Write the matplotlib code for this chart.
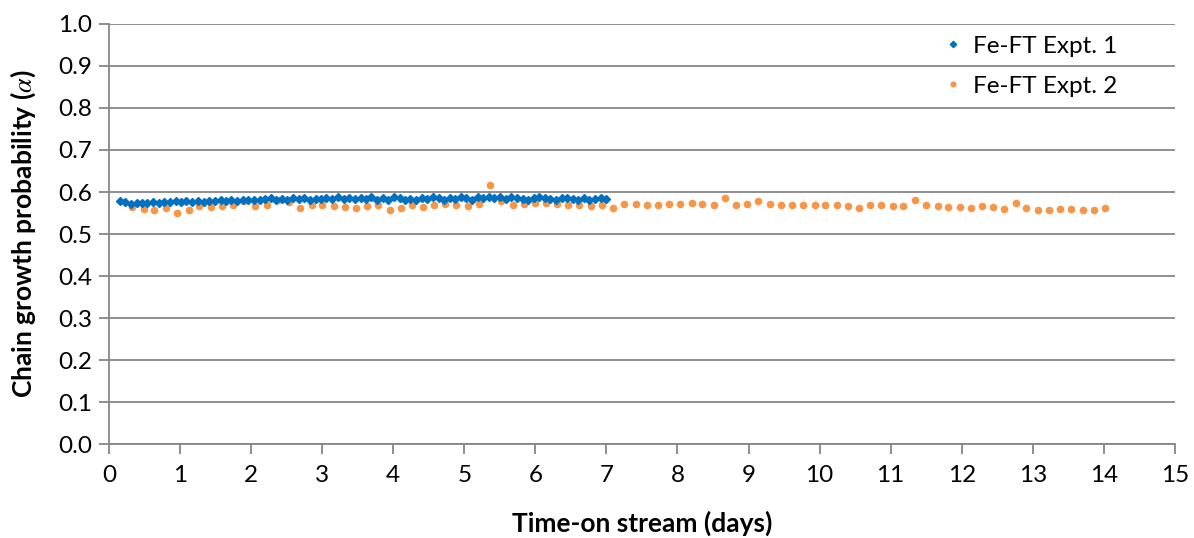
import matplotlib
matplotlib.use("Agg")
import matplotlib.pyplot as plt

# Fe-FT Expt. 1 (diamonds, ~every 1.9 h up to 7 days)
expt1_days = [0.15, 0.23, 0.31, 0.39, 0.46, 0.54, 0.62, 0.70, 0.78, 0.86,
              0.94, 1.02, 1.09, 1.17, 1.25, 1.33, 1.41, 1.49, 1.57, 1.65,
              1.72, 1.80, 1.88, 1.96, 2.04, 2.12, 2.20, 2.28, 2.35, 2.43,
              2.51, 2.59, 2.67, 2.75, 2.83, 2.91, 2.98, 3.06, 3.14, 3.22,
              3.30, 3.38, 3.46, 3.54, 3.61, 3.69, 3.77, 3.85, 3.93, 4.01,
              4.09, 4.17, 4.24, 4.32, 4.40, 4.48, 4.56, 4.64, 4.72, 4.80,
              4.87, 4.95, 5.03, 5.11, 5.19, 5.27, 5.35, 5.42, 5.50, 5.58,
              5.66, 5.74, 5.82, 5.90, 5.98, 6.05, 6.13, 6.21, 6.29, 6.37,
              6.45, 6.53, 6.60, 6.68, 6.76, 6.84, 6.92, 7.00]
expt1_alpha = [0.578, 0.576, 0.572, 0.574, 0.575, 0.573, 0.576, 0.575, 0.577, 0.576,
               0.578, 0.576, 0.578, 0.577, 0.579, 0.577, 0.579, 0.578, 0.580, 0.578,
               0.580, 0.579, 0.581, 0.580, 0.582, 0.580, 0.583, 0.585, 0.581, 0.584,
               0.582, 0.585, 0.583, 0.586, 0.582, 0.584, 0.583, 0.585, 0.583, 0.587,
               0.584, 0.585, 0.583, 0.586, 0.584, 0.588, 0.580, 0.585, 0.582, 0.588,
               0.586, 0.581, 0.583, 0.580, 0.585, 0.583, 0.587, 0.585, 0.582, 0.586,
               0.584, 0.587, 0.585, 0.581, 0.587, 0.585, 0.588, 0.586, 0.587, 0.584,
               0.588, 0.585, 0.584, 0.582, 0.586, 0.588, 0.585, 0.583, 0.581, 0.585,
               0.586, 0.584, 0.582, 0.585, 0.580, 0.583, 0.585, 0.584]

# Fe-FT Expt. 2 (circles, ~every 3.8 h up to 14 days)
expt2_days = [0.33, 0.49, 0.64, 0.80, 0.96, 1.12, 1.27, 1.43, 1.59, 1.75,
              1.90, 2.06, 2.22, 2.38, 2.53, 2.69, 2.85, 3.00, 3.16, 3.32,
              3.48, 3.63, 3.79, 3.95, 4.11, 4.26, 4.42, 4.58, 4.73, 4.89,
              5.05, 5.21, 5.36, 5.52, 5.68, 5.84, 5.99, 6.15, 6.31, 6.46,
              6.62, 6.78, 6.94, 7.09, 7.25, 7.41, 7.57, 7.72, 7.88, 8.04,
              8.20, 8.35, 8.51, 8.67, 8.82, 8.98, 9.14, 9.30, 9.45, 9.61,
              9.77, 9.93, 10.08, 10.24, 10.40, 10.55, 10.71, 10.87, 11.03, 11.18,
              11.34, 11.50, 11.66, 11.81, 11.97, 12.13, 12.28, 12.44, 12.60, 12.76,
              12.91, 13.07, 13.23, 13.39, 13.54, 13.70, 13.86, 14.01]
expt2_alpha = [0.564, 0.560, 0.558, 0.562, 0.551, 0.557, 0.566, 0.564, 0.566, 0.570,
               0.578, 0.567, 0.570, 0.582, 0.577, 0.562, 0.570, 0.570, 0.567, 0.565,
               0.563, 0.567, 0.570, 0.558, 0.561, 0.568, 0.564, 0.570, 0.571, 0.568,
               0.567, 0.572, 0.617, 0.578, 0.570, 0.571, 0.574, 0.574, 0.571, 0.570,
               0.570, 0.566, 0.570, 0.562, 0.572, 0.571, 0.570, 0.570, 0.571, 0.571,
               0.573, 0.571, 0.570, 0.586, 0.570, 0.571, 0.578, 0.571, 0.570, 0.568,
               0.570, 0.570, 0.568, 0.568, 0.566, 0.563, 0.568, 0.568, 0.566, 0.566,
               0.582, 0.568, 0.566, 0.564, 0.564, 0.562, 0.566, 0.565, 0.559, 0.574,
               0.563, 0.558, 0.557, 0.560, 0.559, 0.558, 0.558, 0.562]

x_ticks = list(range(0, 16))
y_ticks = [0.0, 0.1, 0.2, 0.3, 0.4, 0.5, 0.6, 0.7, 0.8, 0.9, 1.0]

plt.rcParams["font.family"] = ["Lato", "DejaVu Sans"]
plt.rcParams["mathtext.fontset"] = "stix"

fig = plt.figure(figsize=(11.94, 5.38), dpi=100)
ax = fig.add_axes([0.0913, 0.1747, 0.8927, 0.7807])

grid_col = "#868686"
ax.plot(expt1_days, expt1_alpha, linestyle="none", marker="D", ms=4,
        color="#0070C0", label="Fe-FT Expt. 1", zorder=3)
ax.plot(expt2_days, expt2_alpha, linestyle="none", marker="o", ms=5.5,
        color="#F79646", mec="none", label="Fe-FT Expt. 2", zorder=2)

ax.set_xlim(0, 15)
ax.set_ylim(0, 1.0)
ax.set_xticks(x_ticks)
ax.set_yticks(y_ticks)
ax.set_yticklabels([f"{v:.1f}" for v in y_ticks])
ax.yaxis.grid(True, color=grid_col, lw=1.3)
ax.set_axisbelow(True)

for side in ("top", "right"):
    ax.spines[side].set_visible(False)
for side in ("left", "bottom"):
    ax.spines[side].set_color(grid_col)
    ax.spines[side].set_linewidth(1.3)
ax.tick_params(axis="both", colors=grid_col, width=1.3, length=7,
               labelsize=17.5, labelcolor="black")
ax.tick_params(axis="x", pad=8)
ax.tick_params(axis="y", pad=5)

ax.set_xlabel("Time-on stream (days)", fontsize=19, fontweight="bold", labelpad=18)
ax.set_ylabel("Chain growth probability ($\\alpha$)", fontsize=19,
              fontweight="bold", labelpad=15)

ax.legend(loc="upper right", frameon=False, fontsize=17.5, handletextpad=0.05,
          handlelength=1.5, labelspacing=0.78, markerscale=0.8, borderaxespad=0.0,
          bbox_to_anchor=(0.955, 0.995))

fig.savefig("out.png", dpi=100)
